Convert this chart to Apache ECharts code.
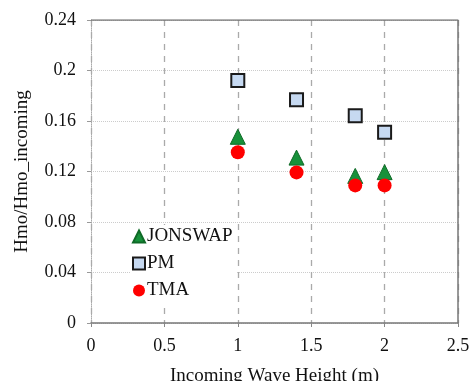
<!DOCTYPE html>
<html>
<head>
<meta charset="utf-8">
<script src="https://cdn.jsdelivr.net/npm/echarts@6/dist/echarts.min.js"></script>
<style>
  html, body { margin: 0; padding: 0; background: #fff; }
  #chart { width: 469px; height: 381px; }
</style>
</head>
<body>
<div id="chart"></div>
<script>
// wave heights (m)
const waveHeights = [1.0, 1.4, 1.8, 2.0]
// Hmo / Hmo_incoming for each spectrum
const jonswap = [0.1475, 0.131, 0.1165, 0.1195]
const pm = [0.192, 0.1768, 0.1642, 0.151]
const tma = [0.1352, 0.1193, 0.109, 0.109]

const font = 'Liberation Serif, Times New Roman, serif'

function pairs(ys) {
  return waveHeights.map((x, i) => [x, ys[i]])
}

const chart = echarts.init(document.getElementById('chart'))
chart.setOption({
  animation: false,
  grid: { left: 91, right: 11, top: 20, bottom: 58, outerBoundsMode: 'none' },
  legend: {
    orient: 'vertical',
    left: 130,
    top: 225,
    itemWidth: 12,
    itemHeight: 12,
    itemGap: 8,
    backgroundColor: '#fff',
    padding: [2, 4, 2, 2],
    textStyle: { fontFamily: font, fontSize: 19, color: '#111', padding: [0, 0, 0, -3] },
    data: ['JONSWAP', 'PM', 'TMA']
  },
  xAxis: {
    type: 'value',
    min: 0,
    max: 2.5,
    interval: 0.5,
    name: 'Incoming Wave Height (m)',
    nameLocation: 'middle',
    nameGap: 44,
    nameTextStyle: { fontFamily: font, fontSize: 19, color: '#111' },
    axisLine: { show: true, lineStyle: { color: '#777', width: 1.5 } },
    axisTick: { show: true, length: 4, lineStyle: { color: '#888' } },
    axisLabel: { fontFamily: font, fontSize: 18, color: '#111', margin: 14 },
    splitLine: {
      show: true,
      lineStyle: { color: '#aaa', type: [6, 6], width: 1.3 }
    }
  },
  yAxis: {
    type: 'value',
    min: 0,
    max: 0.24,
    interval: 0.04,
    name: 'Hmo/Hmo_incoming',
    nameLocation: 'middle',
    nameGap: 59,
    nameTextStyle: { fontFamily: font, fontSize: 19, color: '#111' },
    axisLine: { show: true, lineStyle: { color: '#aaa', type: 'dotted', width: 1 } },
    axisTick: { show: true, length: 4, lineStyle: { color: '#999' } },
    axisLabel: {
      fontFamily: font, fontSize: 18, color: '#111', margin: 15,
      formatter: v => String(+v.toFixed(2))
    },
    splitLine: {
      show: true,
      lineStyle: { color: '#ccc', type: 'dotted', width: 1 }
    }
  },
  series: [
    {
      name: 'JONSWAP',
      type: 'scatter',
      symbol: 'triangle',
      symbolSize: 15,
      itemStyle: { color: '#17913a', borderColor: '#0f6a27', borderWidth: 1, opacity: 1 },
      data: pairs(jonswap)
    },
    {
      name: 'PM',
      type: 'scatter',
      symbol: 'rect',
      symbolSize: 13,
      itemStyle: { color: '#c6d9f1', borderColor: '#1a1a1a', borderWidth: 2, opacity: 1 },
      data: pairs(pm)
    },
    {
      name: 'TMA',
      type: 'scatter',
      symbol: 'circle',
      symbolSize: 14,
      itemStyle: { color: '#ff0000', opacity: 1 },
      data: pairs(tma)
    },
    {
      // frame on top and right of the plot
      type: 'line',
      silent: true,
      symbol: 'none',
      lineStyle: { color: '#777', width: 1.5 },
      data: [[0, 0.24], [2.5, 0.24], [2.5, 0]],
      z: 1
    }
  ]
})
</script>
</body>
</html>
